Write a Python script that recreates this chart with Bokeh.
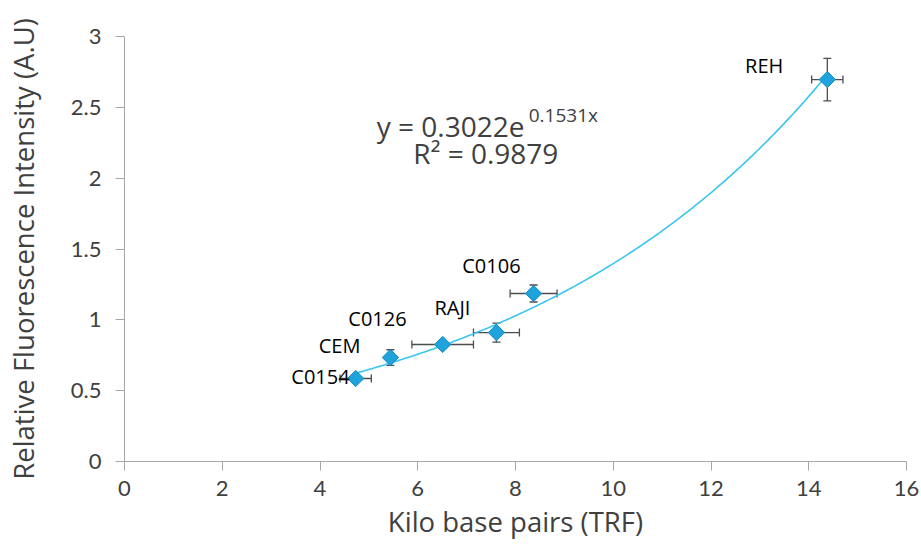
import numpy as np
from bokeh.plotting import figure
from bokeh.models import Range1d, FixedTicker, Whisker, ColumnDataSource, Label, TeeHead
from bokeh.embed import file_html
from bokeh.resources import INLINE

# ---- data ----
cell_lines = ["C0154", "CEM", "C0126", "RAJI", "C0106", "REH"]
kbp = [4.73, 5.44, 6.51, 7.61, 8.37, 14.38]
kbp_err = [0.32, 0.0, 0.63, 0.47, 0.48, 0.32]
rfi = [0.586, 0.734, 0.826, 0.91, 1.186, 2.696]
rfi_err = [0.02, 0.055, 0.0, 0.067, 0.06, 0.15]
fit_a = 0.3022
fit_b = 0.1531
x_ticks = [0, 2, 4, 6, 8, 10, 12, 14, 16]
y_ticks = [0, 0.5, 1, 1.5, 2, 2.5, 3]
y_tick_labels = ["0", "0.5", "1", "1.5", "2", "2.5", "3"]

# label offsets in screen px (right edge, baseline) relative to point
label_offsets = [(-6, 2), (-30, 12), (-36, 26), (-26, 25), (-13, 28), (-44, 14)]

TICK_FONT = "Lato"
TITLE_FONT = "Open Sans"
TXT = "#404040"

p = figure(width=921, height=544, x_range=Range1d(0, 16), y_range=Range1d(0, 3),
           output_backend="svg", toolbar_location=None,
           min_border_left=124, min_border_right=15, min_border_top=36, min_border_bottom=83)
p.outline_line_color = None
p.grid.visible = False
p.background_fill_color = "white"

# axes
for ax in (p.xaxis[0], p.yaxis[0]):
    ax.axis_line_color = "#A6A6A6"
    ax.major_tick_line_color = "#A6A6A6"
    ax.minor_tick_line_color = None
    ax.major_tick_out = 9
    ax.major_tick_in = 0
    ax.major_label_text_font = TICK_FONT
    ax.major_label_text_font_size = "22px"
    ax.major_label_text_color = TXT
    ax.axis_label_text_font = TITLE_FONT
    ax.axis_label_text_font_size = "27.5px"
    ax.axis_label_text_font_style = "normal"
    ax.axis_label_text_color = TXT

p.xaxis.ticker = FixedTicker(ticks=x_ticks)
p.yaxis.ticker = FixedTicker(ticks=y_ticks)
p.yaxis.major_label_overrides = {float(t): l for t, l in zip(y_ticks, y_tick_labels)}
p.xaxis.axis_label = "Kilo base pairs (TRF)"
p.yaxis.axis_label = "Relative Fluorescence Intensity (A.U)"
p.xaxis.major_label_standoff = 10
p.yaxis.major_label_standoff = 14
p.xaxis.axis_label_standoff = 4
p.yaxis.axis_label_standoff = 26

# fit curve
xs = np.linspace(min(kbp), max(kbp), 200)
ys = fit_a * np.exp(fit_b * xs)
p.line(xs, ys, line_color="#38C5EE", line_width=1.6)

# error bars
ex = [(x, y, e) for x, y, e in zip(kbp, rfi, kbp_err) if e > 0]
ey = [(x, y, e) for x, y, e in zip(kbp, rfi, rfi_err) if e > 0]
src_x = ColumnDataSource(dict(base=[t[1] for t in ex], lower=[t[0] - t[2] for t in ex],
                              upper=[t[0] + t[2] for t in ex]))
src_y = ColumnDataSource(dict(base=[t[0] for t in ey], lower=[t[1] - t[2] for t in ey],
                              upper=[t[1] + t[2] for t in ey]))
ecol = "#4D4D4D"
for src, dim in ((src_x, "width"), (src_y, "height")):
    w = Whisker(source=src, base="base", lower="lower", upper="upper", dimension=dim,
                line_color=ecol, line_width=1.3,
                upper_head=TeeHead(size=8, line_color=ecol, line_width=1.3),
                lower_head=TeeHead(size=8, line_color=ecol, line_width=1.3))
    p.add_layout(w)

# markers
p.scatter(kbp, rfi, marker="square", angle=np.pi / 4, size=11.5,
          fill_color="#1EA3DC", line_color="#1689C0", line_width=1)

# point labels
for name, x, y, (dx, dy) in zip(cell_lines, kbp, rfi, label_offsets):
    p.add_layout(Label(x=x, y=y, x_offset=dx, y_offset=dy, text=name,
                       text_align="right", text_baseline="alphabetic",
                       text_font="Open Sans", text_font_size="20px", text_color="black"))

# equation
p.add_layout(Label(x=5.16, y=2.366, text="y = 0.3022e", text_font=TITLE_FONT,
                   text_font_size="28px", text_color=TXT, text_baseline="alphabetic"))
p.add_layout(Label(x=8.27, y=2.446, text="0.1531x", text_font=TITLE_FONT,
                   text_font_size="19px", text_color=TXT, text_baseline="alphabetic"))
p.add_layout(Label(x=5.91, y=2.18, text="R² = 0.9879", text_font=TITLE_FONT,
                   text_font_size="28px", text_color=TXT, text_baseline="alphabetic"))

open("out.html", "w").write(file_html(p, INLINE))
